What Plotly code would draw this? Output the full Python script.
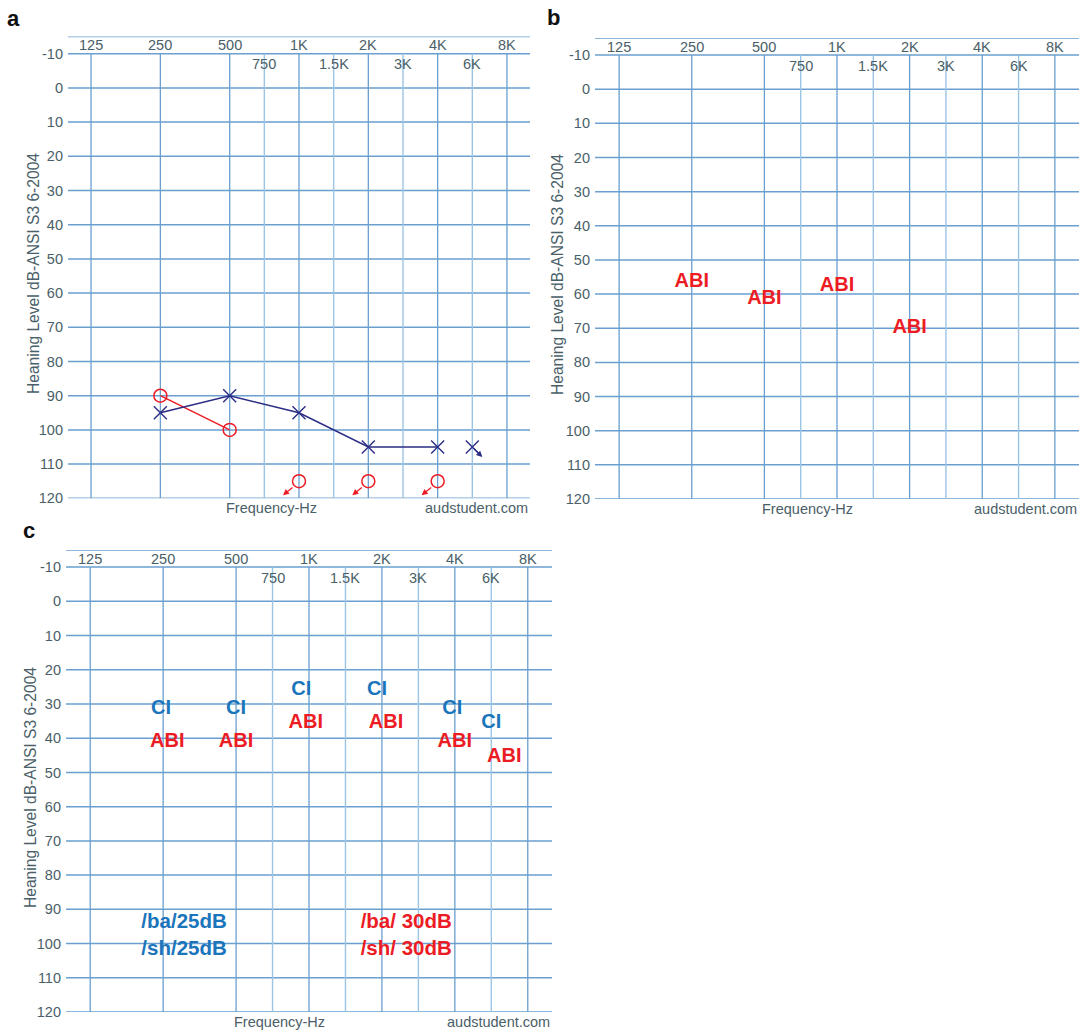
import numpy as np
import plotly.graph_objects as go

# ---------------- data ----------------
octave_freqs = [125, 250, 500, 1000, 2000, 4000, 8000]
octave_labels = ["125", "250", "500", "1K", "2K", "4K", "8K"]
mid_freqs = [750, 1500, 3000, 6000]
mid_labels = ["750", "1.5K", "3K", "6K"]
db_ticks = list(range(-10, 121, 10))
db_labels = [str(v) for v in db_ticks]

# Panel a: audiogram
a_left_freq = [250, 500, 1000, 2000, 4000]
a_left_db = [95, 90, 95, 105, 105]
a_left_nr_freq = [6000]
a_left_nr_db = [105]
a_right_freq = [250, 500]
a_right_db = [90, 100]
a_right_nr_freq = [1000, 2000, 4000]
a_right_nr_db = [115, 115, 115]

# Panel b: ABI thresholds
b_abi_freq = [250, 500, 1000, 2000]
b_abi_db = [56.5, 61.5, 57.5, 70]

# Panel c: CI and ABI thresholds (label positions as read)
c_ci_freq = [245, 500, 930, 1910, 3900, 6000]
c_ci_db = [31.5, 31.5, 26, 26, 31.5, 35.5]
c_abi_freq = [260, 500, 970, 2080, 4000, 6400]
c_abi_db = [41, 41, 35.5, 35.5, 41, 45.5]
c_ci_note_freq = [305, 305]
c_ci_note_db = [94, 101.8]
c_ci_note_text = ["/ba/25dB", "/sh/25dB"]
c_abi_note_freq = [2520, 2520]
c_abi_note_db = [94, 101.8]
c_abi_note_text = ["/ba/ 30dB", "/sh/ 30dB"]

y_title = "Heaning Level dB-ANSI S3 6-2004"

# ---------------- style ----------------
FONT = "Liberation Sans, Arial, Helvetica, sans-serif"
GRAY = "#4a6068"
GRID = "#6a9fcf"
GRID_MINOR = "#9cc4e4"
NAVY = "#2b2d84"
RED = "#ec1c24"
BLUE = "#1b75bb"

W, H = 1084, 1032

# audiogram convention: inter-octave frequencies sit half-way between octaves
HALF = {750: 500 * np.sqrt(2), 1500: 1000 * np.sqrt(2),
        3000: 2000 * np.sqrt(2), 6000: 4000 * np.sqrt(2)}


def apos(f):
    return HALF.get(f, f)


def apos_list(fs):
    return [apos(f) for f in fs]


XR = [np.log10(125) - 0.1, np.log10(8000) + 0.1]
YR = [120, -15]

# panel domains in pixels: (left, right, top, bottom)
panels = {
    1: (68, 530, 36.6, 498.3),
    2: (595, 1079, 38, 499),
    3: (66, 552, 550, 1012),
}

fig = go.Figure()
shapes = []
annotations = []

for i, (l, r, t, b) in panels.items():
    sx = "" if i == 1 else str(i)
    xa, ya = "x" + sx, "y" + sx
    fig.update_layout(**{
        "xaxis" + sx: dict(domain=[l / W, r / W], type="log", range=XR,
                           showgrid=False, zeroline=False, showticklabels=False,
                           showline=False, ticks="", anchor=ya, fixedrange=True,
                           automargin=False),
        "yaxis" + sx: dict(domain=[1 - b / H, 1 - t / H], range=YR,
                           tickvals=db_ticks, ticktext=db_labels, ticks="",
                           showgrid=False, zeroline=False, showline=False,
                           tickfont=dict(family=FONT, size=14.5, color=GRAY),
                           ticklabelstandoff=4, anchor=xa, fixedrange=True,
                           automargin=False),
    })
    # horizontal lines
    for v in db_ticks + [-15]:
        shapes.append(dict(type="line", xref=xa + " domain", yref=ya,
                           x0=0, x1=1, y0=v, y1=v, layer="below",
                           line=dict(color=GRID, width=1.5)))
    # vertical lines (traces)
    vx, vy = [], []
    for f in mid_freqs:
        vx += [apos(f), apos(f), None]
        vy += [-10, 120, None]
    fig.add_trace(go.Scatter(x=vx, y=vy, mode="lines", xaxis=xa, yaxis=ya,
                             line=dict(color=GRID_MINOR, width=1.4),
                             hoverinfo="skip", showlegend=False))
    vx, vy = [], []
    for f in octave_freqs:
        vx += [f, f, None]
        vy += [-10, 120, None]
    fig.add_trace(go.Scatter(x=vx, y=vy, mode="lines", xaxis=xa, yaxis=ya,
                             line=dict(color=GRID, width=1.3),
                             hoverinfo="skip", showlegend=False))
    # frequency labels
    for f, lab in zip(octave_freqs, octave_labels):
        annotations.append(dict(x=np.log10(apos(f)), y=-12.5, xref=xa, yref=ya,
                                text=lab, showarrow=False,
                                font=dict(family=FONT, size=14.5, color=GRAY)))
    for f, lab in zip(mid_freqs, mid_labels):
        annotations.append(dict(x=np.log10(apos(f)), y=-6.9, xref=xa, yref=ya,
                                text=lab, showarrow=False,
                                font=dict(family=FONT, size=14.5, color=GRAY)))
    # bottom captions
    annotations.append(dict(x=0.44, y=0, xref=xa + " domain", yref=ya + " domain",
                            xanchor="center", yanchor="top", yshift=0,
                            text="Frequency-Hz", showarrow=False,
                            font=dict(family=FONT, size=14.5, color=GRAY)))
    annotations.append(dict(x=1.0, y=0, xref=xa + " domain", yref=ya + " domain",
                            xanchor="right", yanchor="top", yshift=0,
                            text="audstudent.com", showarrow=False,
                            font=dict(family=FONT, size=14.5, color=GRAY)))

# y-axis titles
for px, py in [(33, 274), (557, 275), (30, 788)]:
    annotations.append(dict(x=px / W, y=1 - py / H, xref="paper", yref="paper",
                            text=y_title, textangle=-90, showarrow=False,
                            xanchor="center", yanchor="middle",
                            font=dict(family=FONT, size=15.6, color=GRAY)))

# panel letters
for lab, px, py in [("a", 13, 18), ("b", 553, 17), ("c", 29, 530)]:
    annotations.append(dict(x=px / W, y=1 - py / H, xref="paper", yref="paper",
                            text="<b>" + lab + "</b>", showarrow=False,
                            xanchor="center", yanchor="middle",
                            font=dict(family=FONT, size=22, color="#111111")))

# ---------------- panel a marks ----------------
fig.add_trace(go.Scatter(x=apos_list(a_right_freq), y=a_right_db, mode="lines+markers",
                         xaxis="x", yaxis="y",
                         line=dict(color=RED, width=1.5),
                         marker=dict(symbol="circle-open", size=13,
                                     line=dict(color=RED, width=1.5), color=RED),
                         showlegend=False))
fig.add_trace(go.Scatter(x=apos_list(a_right_nr_freq), y=a_right_nr_db, mode="markers",
                         xaxis="x", yaxis="y",
                         marker=dict(symbol="circle-open", size=13,
                                     line=dict(color=RED, width=1.5), color=RED),
                         showlegend=False))
fig.add_trace(go.Scatter(x=apos_list(a_left_freq), y=a_left_db, mode="lines+markers",
                         xaxis="x", yaxis="y",
                         line=dict(color=NAVY, width=1.5),
                         marker=dict(symbol="x-thin", size=13,
                                     line=dict(color=NAVY, width=1.4), color=NAVY),
                         showlegend=False))
fig.add_trace(go.Scatter(x=apos_list(a_left_nr_freq), y=a_left_nr_db, mode="markers",
                         xaxis="x", yaxis="y",
                         marker=dict(symbol="x-thin", size=13,
                                     line=dict(color=NAVY, width=1.4), color=NAVY),
                         showlegend=False))
# no-response arrows
for f, v in zip(a_right_nr_freq, a_right_nr_db):
    annotations.append(dict(x=np.log10(apos(f)), y=v, xref="x", yref="y",
                            xshift=-16, yshift=-14, ax=11, ay=-9, text="",
                            showarrow=True, arrowhead=2, arrowsize=1,
                            arrowwidth=1.2, arrowcolor=RED,
                            standoff=0, startstandoff=0))
for f, v in zip(a_left_nr_freq, a_left_nr_db):
    annotations.append(dict(x=np.log10(apos(f)), y=v, xref="x", yref="y",
                            xshift=10, yshift=-10, ax=-10, ay=-10, text="",
                            showarrow=True, arrowhead=2, arrowsize=1,
                            arrowwidth=1.2, arrowcolor=NAVY,
                            standoff=0, startstandoff=0))

# ---------------- panel b marks ----------------
fig.add_trace(go.Scatter(x=apos_list(b_abi_freq), y=b_abi_db, mode="text",
                         text=["ABI"] * len(b_abi_freq), xaxis="x2", yaxis="y2",
                         textfont=dict(family=FONT, size=20, color=RED, weight="bold"),
                         showlegend=False))

# ---------------- panel c marks ----------------
fig.add_trace(go.Scatter(x=apos_list(c_ci_freq), y=c_ci_db, mode="text",
                         text=["CI"] * len(c_ci_freq), xaxis="x3", yaxis="y3",
                         textfont=dict(family=FONT, size=20, color=BLUE, weight="bold"),
                         showlegend=False))
fig.add_trace(go.Scatter(x=apos_list(c_abi_freq), y=c_abi_db, mode="text",
                         text=["ABI"] * len(c_abi_freq), xaxis="x3", yaxis="y3",
                         textfont=dict(family=FONT, size=20, color=RED, weight="bold"),
                         showlegend=False))
fig.add_trace(go.Scatter(x=c_ci_note_freq, y=c_ci_note_db, mode="text",
                         text=c_ci_note_text, xaxis="x3", yaxis="y3",
                         textfont=dict(family=FONT, size=20.5, color=BLUE, weight="bold"),
                         showlegend=False))
fig.add_trace(go.Scatter(x=c_abi_note_freq, y=c_abi_note_db, mode="text",
                         text=c_abi_note_text, xaxis="x3", yaxis="y3",
                         textfont=dict(family=FONT, size=20.5, color=RED, weight="bold"),
                         showlegend=False))

fig.update_layout(width=W, height=H, margin=dict(l=0, r=0, t=0, b=0, autoexpand=False),
                  paper_bgcolor="white", plot_bgcolor="white",
                  showlegend=False, shapes=shapes, annotations=annotations,
                  font=dict(family=FONT, color=GRAY))

fig.write_html("out.html",
               config={"displayModeBar": False},
               post_script="document.body.style.margin='0';"
                           "document.body.style.overflow='hidden';")
